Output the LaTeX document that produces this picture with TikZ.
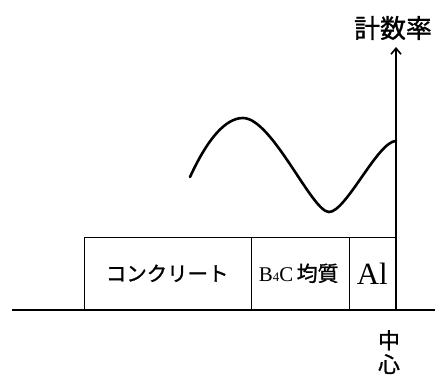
\documentclass[tikz,border=0pt]{standalone}
\usepackage{fontspec}
\setmainfont{Liberation Serif}
\newfontfamily\jp[FakeBold=1.2]{Noto Sans CJK JP}
\usetikzlibrary{arrows.meta}
\begin{document}
\begin{tikzpicture}[x=1bp,y=-1bp,
  layer/.style={draw,line width=1.4bp,inner sep=0pt,minimum height=72bp,anchor=south west},
  lbl/.style={inner sep=0pt},
  curve/.style={line width=2.6bp,line cap=round}]
\useasboundingbox (0,0) rectangle (435,380);
% layers
\node[layer,minimum width=167bp] (conc) at (84,310) {};
\node[layer,minimum width=98bp] (b4c) at (251,310) {};
\node[layer,minimum width=47bp] (al) at (349,310) {};
\node[lbl,font=\jp\fontsize{20.5}{20}\selectfont] (concl) at ([xshift=-1bp]conc.center) {コンクリート};
\node[lbl,font=\fontsize{21}{21}\selectfont] (b4cl) at ([xshift=-2bp]b4c.center) {B\raisebox{0pt}{\fontsize{13}{13}\selectfont 4}C\,{\jp\fontsize{21}{21}\selectfont 均質}};
\node[lbl,font=\fontsize{31}{31}\selectfont] (all) at ([xshift=-1bp]al.center) {Al};
% base line
\coordinate (bl) at (12,310);
\coordinate (br) at (435,310);
\draw[line width=2bp] (bl) -- (br);
% axis
\coordinate (ax0) at (396,310);
\node[lbl,font=\jp\fontsize{26}{26}\selectfont] (cnt) at (393,28) {計数率};
\draw[line width=1.6bp,-{Straight Barb[length=6bp,width=10bp,line width=1.6bp]}] (ax0) -- (396,47);
% center label
\node[lbl,font=\jp\fontsize{22}{24}\selectfont,align=center,anchor=north] (ctr) at (389,330) {中\\心};
% curve
\draw[curve] (190,177) .. controls (207,140) and (225,118) .. (243,118)
  .. controls (272,118) and (312,212) .. (329,212)
  .. controls (346,212) and (378,141) .. (396,141);
\end{tikzpicture}
\end{document}
